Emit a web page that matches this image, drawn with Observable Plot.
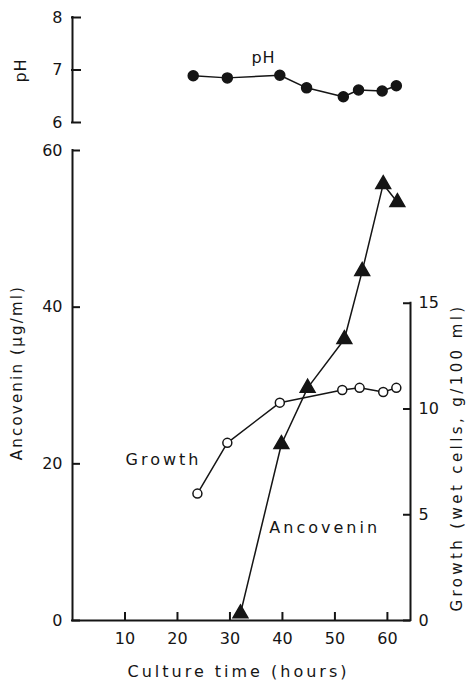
<!DOCTYPE html>
<html><head><meta charset="utf-8">
<script src="https://cdn.jsdelivr.net/npm/d3@7"></script>
<script src="https://cdn.jsdelivr.net/npm/@observablehq/plot@0.6"></script>
<style>
body{margin:0;background:#fff}
#chart{width:468px;height:682px;overflow:hidden}
#chart svg{display:block}
g[aria-label="text"] text{letter-spacing:3px}
</style></head><body><div id="chart"></div>
<script>
// ---- data ----
const phTime = [23.0, 29.5, 39.5, 44.6, 51.6, 54.5, 59.0, 61.7];
const phValue = [6.89, 6.85, 6.90, 6.66, 6.49, 6.62, 6.60, 6.70];
const growthTime = [23.8, 29.5, 39.5, 51.4, 54.7, 59.2, 61.7];
const growthValue = [6.0, 8.4, 10.3, 10.9, 11.0, 10.8, 11.0];
const ancoveninTime = [32.0, 39.8, 44.8, 51.8, 55.2, 59.2, 61.9];
const ancoveninValue = [0.9, 22.5, 29.7, 35.9, 44.6, 55.7, 53.4];
const xTicks = [10, 20, 30, 40, 50, 60];
const ancoveninTicks = [0, 20, 40, 60];
const growthTicks = [0, 5, 10, 15];
const phTicks = [6, 7, 8];

const xMax = 64.4;      // right end of the time axis
const K = 2.7;          // growth (g/100 ml) -> ancovenin scale units (15 g ~ 40.5 µg/ml)

const ph = phTime.map((t, i) => ({t, v: phValue[i]}));
const growth = growthTime.map((t, i) => ({t, v: growthValue[i]}));
const anc = ancoveninTime.map((t, i) => ({t, v: ancoveninValue[i]}));

const ink = "#151515";
const font = {fontFamily: "DejaVu Sans, sans-serif", fontSize: "16px", color: ink, background: "white", overflow: "visible"};
const W = 468, ML = 72, MR = 58;
const frameW = W - ML - MR;
const pxX = frameW / xMax;        // pixels per hour
const pxMain = 470 / 60;          // pixels per µg/ml
const tl = 8;                     // inward tick length, px

const topPlot = Plot.plot({
  width: W, height: 140, marginLeft: ML, marginRight: MR, marginTop: 17, marginBottom: 18,
  style: font,
  x: {domain: [0, xMax], axis: null},
  y: {domain: [6, 8], axis: null},
  marks: [
    Plot.ruleX([0], {y1: 6, y2: 8, stroke: ink, strokeWidth: 2, strokeLinecap: "square"}),
    Plot.ruleY(phTicks, {y: d => d, x1: 0, x2: tl / pxX, stroke: ink, strokeWidth: 2, strokeLinecap: "square"}),
    Plot.axisY(phTicks, {tickSize: 0, tickPadding: 10, fontSize: 16, label: null, fill: ink, tickFormat: d => String(d)}),
    Plot.line(ph, {x: "t", y: "v", stroke: ink, strokeWidth: 1.5}),
    Plot.dot(ph, {x: "t", y: "v", r: 5, fill: ink, stroke: ink}),
    Plot.text(["pH"], {x: 36.4, y: 7.14, textAnchor: "middle", lineAnchor: "bottom", fontSize: 16, fill: ink}),
    Plot.text(["pH"], {frameAnchor: "left", dx: 20 - ML, dy: 70 - (17 + 105 / 2), rotate: -90, textAnchor: "middle", lineAnchor: "middle", fontSize: 16, fill: ink})
  ]
});

const mainPlot = Plot.plot({
  width: W, height: 542, marginLeft: ML, marginRight: MR, marginTop: 10, marginBottom: 62,
  style: font,
  x: {domain: [0, xMax], axis: null},
  y: {domain: [0, 60], axis: null},
  marks: [
    // axis lines
    Plot.ruleX([0], {y1: 0, y2: 60, stroke: ink, strokeWidth: 2, strokeLinecap: "square"}),
    Plot.ruleY([0], {x1: 0, x2: xMax, stroke: ink, strokeWidth: 2, strokeLinecap: "square"}),
    Plot.ruleX([xMax], {y1: 0, y2: 15 * K, stroke: ink, strokeWidth: 2, strokeLinecap: "square"}),
    // inward ticks
    Plot.ruleY(ancoveninTicks, {y: d => d, x1: 0, x2: tl / pxX, stroke: ink, strokeWidth: 2}),
    Plot.ruleY(growthTicks, {y: d => d * K, x1: xMax - 7 / pxX, x2: xMax, stroke: ink, strokeWidth: 2}),
    Plot.ruleX(xTicks, {x: d => d, y1: 0, y2: tl / pxMain, stroke: ink, strokeWidth: 2}),
    // tick labels
    Plot.axisY(ancoveninTicks, {tickSize: 0, tickPadding: 10, fontSize: 16, label: null, fill: ink}),
    Plot.axisY(growthTicks.map(g => g * K), {anchor: "right", tickSize: 0, tickPadding: 8, fontSize: 16, label: null, fill: ink, tickFormat: d => String(Math.round(d / K))}),
    Plot.axisX(xTicks, {tickSize: 0, tickPadding: 12, fontSize: 16, label: null, fill: ink}),
    // data
    Plot.line(growth, {x: "t", y: d => d.v * K, stroke: ink, strokeWidth: 1.5}),
    Plot.line(anc, {x: "t", y: "v", stroke: ink, strokeWidth: 1.5}),
    Plot.dot(growth, {x: "t", y: d => d.v * K, r: 4.5, fill: "white", stroke: ink, strokeWidth: 1.5}),
    Plot.dot(anc, {x: "t", y: "v", symbol: "triangle", r: 5.5, fill: ink, stroke: ink}),
    // series labels
    Plot.text(["Growth"], {x: 10.1, y: 19.8, textAnchor: "start", lineAnchor: "bottom", fontSize: 16, fill: ink}),
    Plot.text(["Ancovenin"], {x: 37.5, y: 11.2, textAnchor: "start", lineAnchor: "bottom", fontSize: 16, fill: ink}),
    // axis titles
    Plot.text(["Culture time (hours)"], {frameAnchor: "bottom", dx: -3, dy: 56, textAnchor: "middle", lineAnchor: "bottom", fontSize: 16, fill: ink}),
    Plot.text(["Ancovenin (µg/ml)"], {frameAnchor: "left", dx: 17 - ML, dy: 232 - 245, rotate: -90, textAnchor: "middle", lineAnchor: "middle", fontSize: 15, fill: ink}),
    Plot.text(["Growth (wet cells, g/100 ml)"], {frameAnchor: "right", dx: 457 - (W - MR), dy: 317 - 245, rotate: -90, textAnchor: "middle", lineAnchor: "middle", fontSize: 15, fill: ink})
  ]
});

mainPlot.querySelectorAll('g[aria-label="text"] text').forEach(t => {
  if (t.textContent.startsWith("Ancovenin (")) t.style.letterSpacing = "2.2px";
  if (t.textContent.startsWith("Growth (")) t.style.letterSpacing = "3.4px";
});
topPlot.querySelectorAll('g[aria-label="text"] text').forEach(t => {
  t.style.letterSpacing = "1px";
});

const chart = document.getElementById("chart");
chart.appendChild(topPlot);
chart.appendChild(mainPlot);
</script></body></html>
